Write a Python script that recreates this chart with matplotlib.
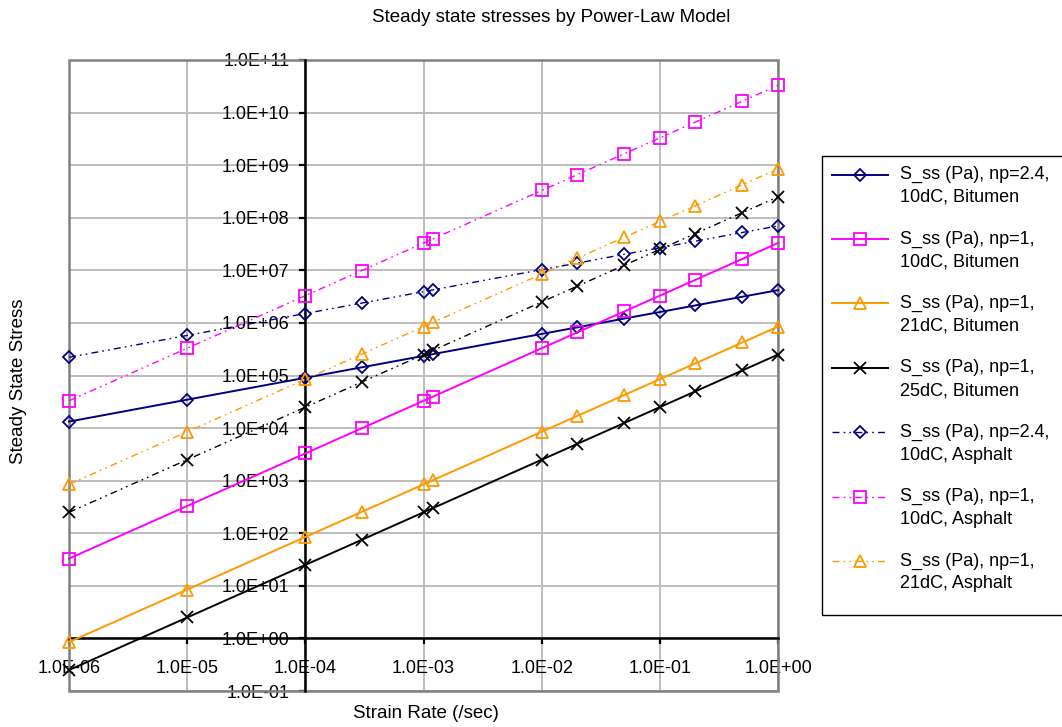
import matplotlib
matplotlib.use("Agg")
import matplotlib.pyplot as plt
from matplotlib.patches import Rectangle
from matplotlib.ticker import FuncFormatter, FixedLocator, NullLocator
from matplotlib.legend_handler import HandlerLine2D

plt.rcParams['font.family'] = ['Liberation Sans', 'DejaVu Sans']

# strain rates (1/s)
strain_rate = [1e-6, 1e-5, 1e-4, 3e-4, 1e-3, 1.2e-3, 1e-2, 2e-2, 5e-2, 1e-1, 2e-1, 5e-1, 1.0]

# steady state stresses (Pa)
bit_np24_10 = [1.33e4, 3.47e4, 9.05e4, 1.43e5, 2.36e5, 2.55e5, 6.17e5, 8.23e5,
               1.21e6, 1.61e6, 2.15e6, 3.15e6, 4.2e6]
bit_np1_10 = [33, 330, 3300, 9900, 3.3e4, 3.96e4, 3.3e5, 6.6e5,
              1.65e6, 3.3e6, 6.6e6, 1.65e7, 3.3e7]
bit_np1_21 = [0.85, 8.5, 85, 255, 850, 1020, 8500, 1.7e4,
              4.25e4, 8.5e4, 1.7e5, 4.25e5, 8.5e5]
bit_np1_25 = [0.25, 2.5, 25, 75, 250, 300, 2500, 5000,
              1.25e4, 2.5e4, 5e4, 1.25e5, 2.5e5]
asp_np24_10 = [2.22e5, 5.78e5, 1.51e6, 2.38e6, 3.93e6, 4.25e6, 1.03e7, 1.37e7,
               2.02e7, 2.68e7, 3.58e7, 5.25e7, 7.0e7]
asp_np1_10 = [3.3e4, 3.3e5, 3.3e6, 9.9e6, 3.3e7, 3.96e7, 3.3e8, 6.6e8,
              1.65e9, 3.3e9, 6.6e9, 1.65e10, 3.3e10]
asp_np1_21 = [850, 8500, 8.5e4, 2.55e5, 8.5e5, 1.02e6, 8.5e6, 1.7e7,
              4.25e7, 8.5e7, 1.7e8, 4.25e8, 8.5e8]
asp_np1_25 = [250, 2500, 2.5e4, 7.5e4, 2.5e5, 3e5, 2.5e6, 5e6,
              1.25e7, 2.5e7, 5e7, 1.25e8, 2.5e8]

labels = [
    "S_ss (Pa), np=2.4,\n10dC, Bitumen",
    "S_ss (Pa), np=1,\n10dC, Bitumen",
    "S_ss (Pa), np=1,\n21dC, Bitumen",
    "S_ss (Pa), np=1,\n25dC, Bitumen",
    "S_ss (Pa), np=2.4,\n10dC, Asphalt",
    "S_ss (Pa), np=1,\n10dC, Asphalt",
    "S_ss (Pa), np=1,\n21dC, Asphalt",
    "S_ss (Pa), np=1,\n25dC, Asphalt",
]

x_ticks = [1e-6, 1e-5, 1e-4, 1e-3, 1e-2, 1e-1, 1e0]
y_ticks = [1e-1, 1e0, 1e1, 1e2, 1e3, 1e4, 1e5, 1e6, 1e7, 1e8, 1e9, 1e10, 1e11]

NAVY = '#000080'
MAGENTA = '#FF00FF'
ORANGE = '#FF9900'
BLACK = '#000000'
FS = 13
W, H = 1062, 727

fig = plt.figure(figsize=(W / 100, H / 100), dpi=100)
ax = fig.add_axes([69 / W, 1 - 691 / H, (778 - 69) / W, (691 - 60) / H])

dashdotdot = (0, (5, 3, 1.2, 3, 1.2, 3))

series = [
    (bit_np24_10, NAVY, 'D', 6.3, '-'),
    (bit_np1_10, MAGENTA, 's', 8.5, '-'),
    (bit_np1_21, ORANGE, '^', 8.5, '-'),
    (bit_np1_25, BLACK, 'x', 9.0, '-'),
    (asp_np24_10, NAVY, 'D', 6.3, dashdotdot),
    (asp_np1_10, MAGENTA, 's', 8.5, dashdotdot),
    (asp_np1_21, ORANGE, '^', 8.5, dashdotdot),
    (asp_np1_25, BLACK, 'x', 9.0, dashdotdot),
]

handles = []
for (vals, col, mk, ms, ls), lab in zip(series, labels):
    lw = 1.4 if ls == '-' else 1.0
    h, = ax.plot(strain_rate, vals, color=col, linestyle=ls, linewidth=lw,
                 marker=mk, markersize=ms, markerfacecolor='none',
                 markeredgecolor=col, markeredgewidth=1.3, label=lab,
                 clip_on=False, zorder=3)
    handles.append(h)

ax.set_xscale('log')
ax.set_yscale('log')
ax.set_xlim(x_ticks[0], x_ticks[-1])
ax.set_ylim(y_ticks[0], y_ticks[-1])

ax.xaxis.set_major_locator(FixedLocator(x_ticks))
ax.yaxis.set_major_locator(FixedLocator(y_ticks))
ax.xaxis.set_minor_locator(NullLocator())
ax.yaxis.set_minor_locator(NullLocator())
sci = FuncFormatter(lambda v, p: f"{v:.1E}")
ax.xaxis.set_major_formatter(sci)
ax.yaxis.set_major_formatter(sci)

ax.grid(True, color='#bdbdbd', linewidth=1.4, zorder=0)
ax.set_axisbelow(True)

# axes cross at strain rate 1e-4 and stress 1 Pa
ax.spines['left'].set_position(('data', 1e-4))
ax.spines['bottom'].set_position(('data', 1.0))
for s in ('left', 'bottom'):
    ax.spines[s].set_color('black')
    ax.spines[s].set_linewidth(1.8)
    ax.spines[s].set_zorder(2.5)
ax.spines['top'].set_visible(False)
ax.spines['right'].set_visible(False)
ax.add_patch(Rectangle((0, 0), 1, 1, transform=ax.transAxes, fill=False,
                       edgecolor='#808080', linewidth=1.8, clip_on=False, zorder=1))

ax.tick_params(axis='both', which='major', direction='out', length=4.5, width=1.6,
               labelsize=FS, colors='black')
ax.tick_params(axis='x', pad=11)
ax.tick_params(axis='y', pad=7)

fig.text(551 / W, 1 - 17 / H, "Steady state stresses by Power-Law Model",
         ha='center', va='center', fontsize=13.5)
fig.text(19 / W, 1 - 381 / H, "Steady State Stress", rotation=90,
         ha='center', va='center', fontsize=13.5)
fig.text(426 / W, 1 - 714 / H, "Strain Rate (/sec)",
         ha='center', va='center', fontsize=13.5)


class RaisedLine(HandlerLine2D):
    """Line handle aligned with the first line of a two-line label."""
    def create_artists(self, legend, orig_handle, xdescent, ydescent,
                       width, height, fontsize, trans):
        return super().create_artists(legend, orig_handle, xdescent,
                                      ydescent - 2 * 8.3, width, height,
                                      fontsize, trans)


# legend box: runs past the right edge of the figure
fig.patches.append(Rectangle((822 / W, 1 - 615 / H), 250 / W, (615 - 156) / H,
                             transform=fig.transFigure, facecolor='white',
                             edgecolor='black', linewidth=1.0, zorder=4))

leg = fig.legend(handles[:7], labels[:7], loc='upper left',
                 bbox_to_anchor=(822 / W, 1 - 156 / H),
                 bbox_transform=fig.transFigure,
                 fontsize=FS, frameon=False, borderpad=0.55, handlelength=3.1,
                 handletextpad=0.67, labelspacing=1.35, borderaxespad=0,
                 handler_map={h: RaisedLine(numpoints=1) for h in handles})
leg.set_zorder(5)
for t in leg.get_texts():
    t.set_linespacing(1.45)

fig.savefig("out.png", dpi=100)
